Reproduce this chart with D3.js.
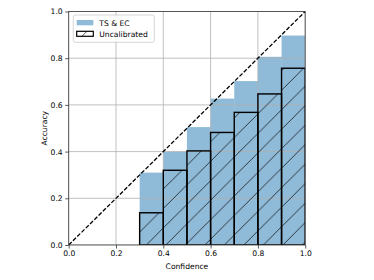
<!DOCTYPE html>
<html>
<head>
<meta charset="utf-8">
<script src="https://cdn.jsdelivr.net/npm/d3@7"></script>
<style>
  body { margin: 0; background: #fff; }
  text { font-family: "DejaVu Sans", sans-serif; fill: #000; }
</style>
</head>
<body>
<div id="chart"></div>
<script>
// bin edges (left) and per-bin accuracies
const binStarts = [0.3, 0.4, 0.5, 0.6, 0.7, 0.8, 0.9];
const binWidth = 0.1;
const calibrated = [0.31, 0.40, 0.505, 0.627, 0.702, 0.806, 0.897];   // TS & EC
const uncalibrated = [0.138, 0.32, 0.403, 0.482, 0.568, 0.647, 0.757];
const ticks = [0, 0.2, 0.4, 0.6, 0.8, 1.0];
const legendLabels = ['TS & EC', 'Uncalibrated'];

const W = 374, H = 280;
const m = {left: 68.7, right: 374 - 305.2, top: 11.5, bottom: 280 - 245};

const svg = d3.select('#chart').append('svg')
    .attr('width', W)
    .attr('height', H);

const x = d3.scaleLinear().domain([0, 1]).range([m.left, W - m.right]);
const y = d3.scaleLinear().domain([0, 1]).range([H - m.bottom, m.top]);

const defs = svg.append('defs');
defs.append('clipPath').attr('id', 'plot-clip')
  .append('rect')
    .attr('x', x(0)).attr('y', y(1))
    .attr('width', x(1) - x(0)).attr('height', y(0) - y(1));

// "/" hatch, anchored to page coordinates like matplotlib
const hs = 19.5;
const hatch = defs.append('pattern')
    .attr('id', 'hatch')
    .attr('patternUnits', 'userSpaceOnUse')
    .attr('width', hs).attr('height', hs)
    .attr('x', 1.3);
hatch.append('path')
    .attr('d', `M0,${hs} L${hs},0 M${-hs / 2},${hs / 2} L${hs / 2},${-hs / 2} M${hs / 2},${hs * 1.5} L${hs * 1.5},${hs / 2}`)
    .attr('stroke', '#000')
    .attr('stroke-width', 0.7);

const plot = svg.append('g').attr('clip-path', 'url(#plot-clip)');

// calibrated bars (tab:blue, alpha .5)
plot.selectAll('rect.cal')
  .data(binStarts)
  .join('rect')
    .attr('class', 'cal')
    .attr('x', d => x(d))
    .attr('width', x(binWidth) - x(0))
    .attr('y', (d, i) => y(calibrated[i]))
    .attr('height', (d, i) => y(0) - y(calibrated[i]))
    .attr('fill', '#1f77b4')
    .attr('fill-opacity', 0.5);

// grid
const grid = plot.append('g').attr('stroke', '#b0b0b0').attr('stroke-width', 0.8);
grid.selectAll('line.gx').data(ticks).join('line')
    .attr('x1', d => x(d)).attr('x2', d => x(d))
    .attr('y1', y(0)).attr('y2', y(1));
grid.selectAll('line.gy').data(ticks).join('line')
    .attr('y1', d => y(d)).attr('y2', d => y(d))
    .attr('x1', x(0)).attr('x2', x(1));

// uncalibrated hatched bars
plot.selectAll('rect.unc')
  .data(binStarts)
  .join('rect')
    .attr('class', 'unc')
    .attr('x', d => x(d))
    .attr('width', x(binWidth) - x(0))
    .attr('y', (d, i) => y(uncalibrated[i]))
    .attr('height', (d, i) => y(0) - y(uncalibrated[i]))
    .attr('fill', 'url(#hatch)')
    .attr('stroke', '#000')
    .attr('stroke-width', 1.4);

// perfect calibration diagonal
plot.append('line')
    .attr('x1', x(0)).attr('y1', y(0))
    .attr('x2', x(1)).attr('y2', y(1))
    .attr('stroke', '#000')
    .attr('stroke-width', 1.3)
    .attr('stroke-dasharray', '4.2,1.8');

// axes
const fmt = d3.format('.1f');
const xAxis = svg.append('g')
    .attr('transform', `translate(0,${y(0)})`)
    .call(d3.axisBottom(x).tickValues(ticks).tickFormat(fmt).tickSize(3.5).tickPadding(2.5));
const yAxis = svg.append('g')
    .attr('transform', `translate(${x(0)},0)`)
    .call(d3.axisLeft(y).tickValues(ticks).tickFormat(fmt).tickSize(3.5).tickPadding(2.5));
[xAxis, yAxis].forEach(a => {
  a.selectAll('text').attr('font-size', 7.6).attr('font-family', '"DejaVu Sans", sans-serif').attr('fill', '#000');
  a.selectAll('line').attr('stroke', '#333').attr('stroke-width', 0.8);
  a.select('.domain').remove();
});

// spines
svg.append('rect')
    .attr('x', x(0)).attr('y', y(1))
    .attr('width', x(1) - x(0)).attr('height', y(0) - y(1))
    .attr('fill', 'none')
    .attr('stroke', '#333')
    .attr('stroke-width', 0.8);

svg.append('text')
    .attr('x', (x(0) + x(1)) / 2)
    .attr('y', 268.5)
    .attr('text-anchor', 'middle')
    .attr('font-size', 7.6)
    .text('Confidence');

svg.append('text')
    .attr('transform', `translate(46.5,${(y(0) + y(1)) / 2}) rotate(-90)`)
    .attr('text-anchor', 'middle')
    .attr('font-size', 7.6)
    .text('Accuracy');

// legend
const lg = svg.append('g');
lg.append('rect')
    .attr('x', 73.3).attr('y', 15)
    .attr('width', 81).attr('height', 27.3)
    .attr('rx', 2)
    .attr('fill', '#fff').attr('fill-opacity', 0.8)
    .attr('stroke', '#ccc').attr('stroke-width', 0.8);
lg.append('rect')
    .attr('x', 76.7).attr('y', 20)
    .attr('width', 16.6).attr('height', 5.3)
    .attr('fill', '#1f77b4').attr('fill-opacity', 0.5);
lg.append('rect')
    .attr('x', 76.7).attr('y', 31.3)
    .attr('width', 16.6).attr('height', 5)
    .attr('fill', 'url(#hatch)')
    .attr('stroke', '#000').attr('stroke-width', 1.2);
lg.selectAll('text.lab')
  .data(legendLabels)
  .join('text')
    .attr('class', 'lab')
    .attr('x', 99.3)
    .attr('y', (d, i) => 25.8 + i * 11)
    .attr('font-size', 7.6)
    .text(d => d);
</script>
</body>
</html>
